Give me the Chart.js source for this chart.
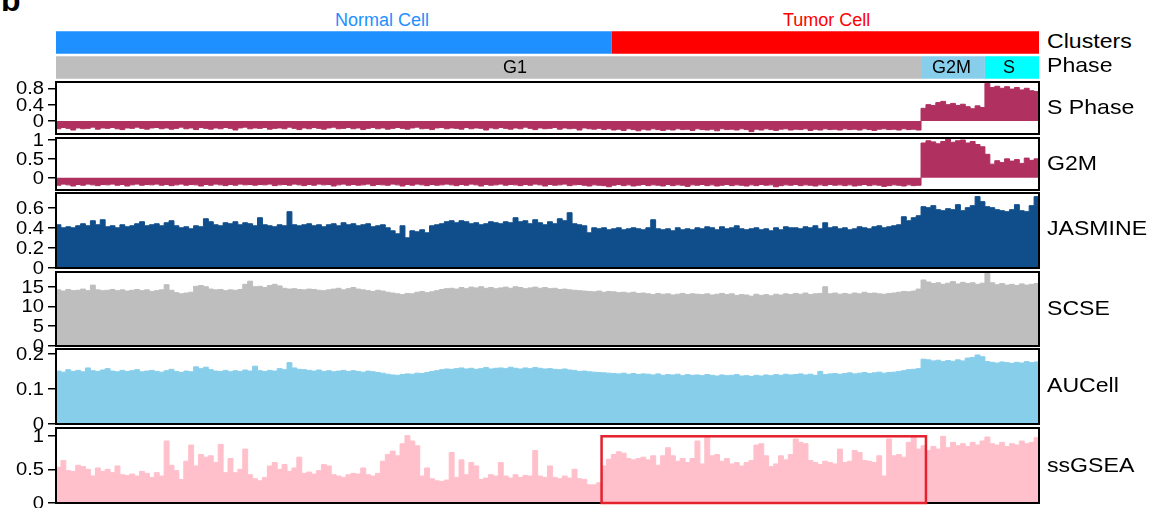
<!DOCTYPE html>
<html>
<head>
<meta charset="utf-8">
<script src="https://cdn.jsdelivr.net/npm/chart.js@4.4.1/dist/chart.umd.min.js"></script>
<style>
  html, body { margin: 0; padding: 0; background: #fff; }
  body { width: 1153px; height: 508px; overflow: hidden; position: relative; font-family: Arial, "Liberation Sans", sans-serif; }
  canvas { position: absolute; }
  .lbl { position: absolute; white-space: nowrap; line-height: 1; transform: translateY(-50%); }
  .side { font-size: 21px; color: #000; transform: translateY(-50%) scaleX(1.1); transform-origin: left center; }
</style>
</head>
<body>
<script>
// ---- data ----
const cellCount = 200;
const clusterLabels = ['Normal Cell', 'Tumor Cell'];
const clusterSizes = [113, 87];
const phaseLabels = ['G1', 'G2M', 'S'];
const phaseSizes = [176, 13, 11];

const sPhaseScore = [
  -0.19,-0.16,-0.18,-0.22,-0.17,-0.19,-0.18,-0.15,-0.20,-0.17,
  -0.18,-0.16,-0.19,-0.21,-0.17,-0.18,-0.15,-0.18,-0.20,-0.17,
  -0.16,-0.19,-0.17,-0.20,-0.18,-0.15,-0.19,-0.17,-0.21,-0.16,
  -0.18,-0.20,-0.17,-0.19,-0.16,-0.18,-0.22,-0.17,-0.15,-0.19,
  -0.17,-0.18,-0.16,-0.20,-0.18,-0.17,-0.19,-0.15,-0.18,-0.21,
  -0.17,-0.19,-0.16,-0.18,-0.20,-0.17,-0.15,-0.19,-0.18,-0.16,
  -0.19,-0.17,-0.21,-0.18,-0.16,-0.19,-0.17,-0.20,-0.18,-0.16,
  -0.18,-0.20,-0.17,-0.15,-0.19,-0.18,-0.21,-0.17,-0.16,-0.19,
  -0.17,-0.18,-0.20,-0.16,-0.19,-0.17,-0.18,-0.22,-0.17,-0.19,
  -0.16,-0.18,-0.20,-0.17,-0.19,-0.15,-0.18,-0.21,-0.17,-0.19,
  -0.18,-0.16,-0.20,-0.17,-0.19,-0.18,-0.22,-0.17,-0.19,-0.20,
  -0.18,-0.21,-0.19,-0.22,-0.20,-0.23,-0.19,-0.21,-0.24,-0.20,
  -0.22,-0.19,-0.21,-0.23,-0.20,-0.22,-0.19,-0.21,-0.20,-0.23,
  -0.19,-0.21,-0.22,-0.20,-0.24,-0.19,-0.21,-0.20,-0.22,-0.19,
  -0.21,-0.26,-0.20,-0.22,-0.19,-0.21,-0.23,-0.20,-0.19,-0.22,
  -0.20,-0.21,-0.19,-0.23,-0.20,-0.22,-0.19,-0.21,-0.20,-0.22,
  -0.19,-0.21,-0.20,-0.22,-0.19,-0.21,-0.23,-0.20,-0.19,-0.21,
  -0.20,-0.22,-0.19,-0.21,-0.20,-0.22,
  0.31,0.40,0.38,0.45,0.48,0.40,0.43,0.38,0.41,0.35,0.30,0.37,0.33,
  0.92,0.82,0.85,0.80,0.84,0.78,0.82,0.76,0.80,0.74,0.72
];

const g2mScore = [
  -0.20,-0.17,-0.19,-0.22,-0.18,-0.20,-0.17,-0.19,-0.21,-0.18,
  -0.19,-0.17,-0.20,-0.18,-0.22,-0.19,-0.17,-0.20,-0.18,-0.19,
  -0.17,-0.20,-0.18,-0.21,-0.19,-0.17,-0.20,-0.18,-0.19,-0.22,
  -0.18,-0.20,-0.17,-0.19,-0.21,-0.18,-0.20,-0.17,-0.19,-0.18,
  -0.20,-0.18,-0.19,-0.17,-0.21,-0.19,-0.18,-0.20,-0.17,-0.19,
  -0.21,-0.18,-0.20,-0.17,-0.19,-0.18,-0.22,-0.19,-0.17,-0.20,
  -0.18,-0.20,-0.19,-0.17,-0.21,-0.18,-0.19,-0.20,-0.17,-0.19,
  -0.22,-0.18,-0.20,-0.17,-0.19,-0.21,-0.18,-0.20,-0.19,-0.17,
  -0.19,-0.21,-0.18,-0.20,-0.17,-0.19,-0.22,-0.18,-0.20,-0.19,
  -0.17,-0.20,-0.18,-0.19,-0.21,-0.18,-0.20,-0.17,-0.19,-0.22,
  -0.18,-0.20,-0.19,-0.17,-0.21,-0.19,-0.18,-0.20,-0.22,-0.19,
  -0.20,-0.21,-0.24,-0.20,-0.18,-0.21,-0.19,-0.22,-0.20,-0.18,
  -0.21,-0.19,-0.20,-0.22,-0.18,-0.21,-0.19,-0.20,-0.23,-0.19,
  -0.20,-0.18,-0.21,-0.19,-0.22,-0.20,-0.18,-0.21,-0.19,-0.20,
  -0.22,-0.19,-0.21,-0.18,-0.20,-0.19,-0.24,-0.21,-0.19,-0.20,
  -0.18,-0.21,-0.19,-0.20,-0.22,-0.19,-0.21,-0.18,-0.20,-0.19,
  -0.21,-0.19,-0.22,-0.20,-0.18,-0.21,-0.19,-0.20,-0.23,-0.21,
  -0.19,-0.20,-0.22,-0.19,-0.21,-0.20,
  0.92,0.98,0.95,0.90,0.96,1.02,0.94,0.98,1.00,0.92,0.96,0.88,0.82,
  0.62,0.36,0.45,0.40,0.50,0.44,0.48,0.38,0.52,0.46,0.50
];

const jasmineScore = [
  0.43,0.40,0.41,0.40,0.42,0.44,0.42,0.47,0.43,0.48,
  0.41,0.42,0.40,0.43,0.41,0.42,0.44,0.46,0.42,0.43,
  0.44,0.42,0.45,0.47,0.42,0.40,0.41,0.39,0.42,0.41,
  0.49,0.46,0.43,0.42,0.45,0.44,0.46,0.43,0.45,0.44,
  0.42,0.50,0.43,0.42,0.41,0.43,0.42,0.56,0.43,0.42,
  0.43,0.44,0.42,0.43,0.41,0.43,0.44,0.42,0.45,0.43,
  0.44,0.42,0.43,0.44,0.41,0.42,0.43,0.40,0.37,0.34,
  0.42,0.30,0.37,0.36,0.38,0.35,0.42,0.43,0.44,0.46,
  0.47,0.45,0.47,0.46,0.44,0.45,0.43,0.44,0.46,0.45,
  0.44,0.46,0.45,0.50,0.46,0.47,0.44,0.48,0.45,0.43,
  0.46,0.44,0.49,0.47,0.55,0.44,0.43,0.42,0.35,0.40,
  0.39,0.40,0.38,0.39,0.40,0.38,0.39,0.40,0.39,0.38,
  0.40,0.48,0.39,0.38,0.39,0.37,0.40,0.38,0.39,0.38,
  0.40,0.39,0.41,0.40,0.38,0.41,0.39,0.40,0.42,0.39,
  0.38,0.39,0.40,0.38,0.39,0.37,0.40,0.38,0.41,0.40,
  0.40,0.39,0.41,0.40,0.42,0.39,0.45,0.40,0.41,0.39,
  0.40,0.38,0.39,0.41,0.40,0.39,0.41,0.42,0.40,0.41,
  0.42,0.43,0.51,0.47,0.50,0.52,
  0.61,0.60,0.62,0.58,0.57,0.59,0.58,0.63,0.57,0.60,0.62,0.71,0.66,
  0.61,0.60,0.58,0.57,0.56,0.58,0.63,0.57,0.56,0.62,0.71
];

const scseScore = [
  14.2,13.9,14.3,14.0,14.1,14.4,14.0,15.4,14.2,14.0,
  14.1,14.3,14.0,14.2,13.9,14.1,14.3,14.0,14.2,13.8,
  14.0,14.2,15.5,14.1,13.5,13.2,13.4,13.6,15.1,15.3,
  15.0,14.4,14.2,14.3,14.0,14.2,14.1,14.3,15.6,16.4,
  15.0,15.1,14.8,15.3,15.6,15.2,14.6,14.4,14.5,14.3,
  14.2,14.4,14.3,14.1,14.0,14.2,14.4,14.6,14.2,14.5,
  14.8,14.4,14.2,14.0,13.8,14.1,13.9,13.6,13.4,13.2,
  13.0,13.3,13.2,13.6,13.8,13.5,13.7,14.0,14.3,14.5,
  14.6,14.4,14.8,14.5,14.9,14.7,15.0,14.6,14.8,14.5,
  14.7,14.9,14.6,15.0,14.8,14.5,14.7,14.9,14.6,14.8,
  14.5,14.6,14.3,14.4,14.2,14.1,14.0,13.9,13.8,13.7,
  13.9,13.6,13.8,13.7,13.5,13.6,13.4,13.6,13.3,13.4,
  13.2,13.0,13.3,13.1,13.2,12.9,13.1,13.3,13.0,13.2,
  13.1,13.0,13.2,12.9,13.1,13.3,13.0,13.2,12.8,13.0,
  12.9,12.6,13.1,12.8,13.0,12.7,13.1,12.9,13.2,13.0,
  13.3,13.1,13.4,13.0,13.2,13.3,15.0,13.2,13.4,13.1,
  13.3,13.1,13.4,13.2,13.6,13.3,13.4,13.2,13.1,13.3,
  13.4,13.6,13.8,13.7,13.9,14.4,
  16.7,16.2,15.8,16.0,15.6,15.9,16.3,15.7,16.1,15.8,16.0,15.6,15.9,
  18.4,16.0,15.5,15.8,15.4,15.6,15.3,15.7,15.4,15.6,15.8
];

const aucellScore = [
  0.151,0.148,0.155,0.150,0.153,0.149,0.160,0.152,0.150,0.154,
  0.158,0.151,0.149,0.153,0.150,0.152,0.155,0.149,0.151,0.153,
  0.150,0.148,0.152,0.156,0.150,0.147,0.151,0.149,0.163,0.158,
  0.162,0.155,0.151,0.150,0.153,0.149,0.152,0.150,0.154,0.151,
  0.165,0.152,0.150,0.153,0.151,0.158,0.155,0.175,0.160,0.156,
  0.155,0.153,0.151,0.154,0.150,0.152,0.149,0.151,0.153,0.150,
  0.152,0.150,0.148,0.151,0.149,0.147,0.145,0.142,0.140,0.139,
  0.141,0.143,0.142,0.145,0.144,0.147,0.150,0.152,0.155,0.157,
  0.156,0.158,0.160,0.157,0.159,0.156,0.158,0.161,0.157,0.159,
  0.160,0.158,0.162,0.159,0.157,0.160,0.158,0.161,0.159,0.157,
  0.158,0.156,0.155,0.157,0.154,0.153,0.150,0.151,0.149,0.148,
  0.147,0.146,0.145,0.144,0.143,0.145,0.142,0.144,0.141,0.143,
  0.142,0.140,0.143,0.139,0.141,0.140,0.142,0.138,0.141,0.139,
  0.140,0.138,0.141,0.139,0.137,0.140,0.138,0.139,0.141,0.137,
  0.138,0.136,0.139,0.137,0.140,0.138,0.141,0.139,0.142,0.140,
  0.141,0.143,0.140,0.142,0.139,0.150,0.141,0.143,0.144,0.142,
  0.144,0.146,0.143,0.145,0.147,0.144,0.146,0.148,0.145,0.147,
  0.148,0.150,0.152,0.155,0.156,0.158,
  0.185,0.183,0.180,0.182,0.178,0.181,0.179,0.183,0.180,0.188,0.190,0.197,0.192,
  0.178,0.176,0.174,0.177,0.175,0.173,0.176,0.174,0.178,0.175,0.177
];

const ssgseaScore = [
  0.53,0.63,0.48,0.47,0.56,0.54,0.50,0.40,0.52,0.47,
  0.50,0.45,0.55,0.42,0.41,0.43,0.40,0.47,0.44,0.38,
  0.45,0.40,0.92,0.56,0.48,0.35,0.62,0.86,0.55,0.72,
  0.68,0.70,0.60,0.87,0.45,0.66,0.45,0.50,0.80,0.42,
  0.36,0.33,0.38,0.55,0.60,0.50,0.57,0.47,0.52,0.68,
  0.44,0.46,0.43,0.48,0.57,0.55,0.42,0.40,0.38,0.42,
  0.44,0.43,0.52,0.42,0.40,0.44,0.62,0.72,0.77,0.70,
  0.88,1.00,0.92,0.85,0.40,0.52,0.36,0.33,0.32,0.34,
  0.75,0.38,0.64,0.42,0.60,0.55,0.35,0.37,0.42,0.40,
  0.60,0.40,0.37,0.42,0.38,0.41,0.40,0.78,0.40,0.38,
  0.55,0.38,0.36,0.40,0.37,0.50,0.36,0.35,0.27,0.27,
  0.30,0.55,0.65,0.72,0.76,0.74,0.66,0.64,0.66,0.68,
  0.64,0.70,0.56,0.70,0.82,0.70,0.62,0.66,0.60,0.66,
  0.92,0.58,1.00,0.70,0.72,0.62,0.66,0.58,0.60,0.55,
  0.60,0.63,0.86,0.88,0.70,0.54,0.58,0.70,0.64,0.72,
  0.95,0.90,0.88,0.63,0.60,0.57,0.62,0.60,0.58,0.80,
  0.60,0.62,0.78,0.75,0.63,0.62,0.60,0.70,0.40,0.95,
  0.70,0.72,0.68,0.90,0.98,0.80,0.85,0.78,0.84,0.80,
  0.99,0.82,0.90,0.85,0.88,0.84,0.90,0.86,0.92,0.98,
  0.88,0.86,0.90,0.84,0.88,0.86,0.92,0.88,0.90,0.97
];

const sPhaseTicks = [0, 0.4, 0.8];
const g2mTicks = [0, 0.5, 1];
const jasmineTicks = [0, 0.2, 0.4, 0.6];
const scseTicks = [0, 5, 10, 15];
const aucellTicks = [0, 0.1, 0.2];
const ssgseaTicks = [0, 0.5, 1];

// boxed tumor G1 block in the ssGSEA track (cell index range, score top)
const highlightCells = [111, 177];
const highlightTop = 0.99;

// ---- helpers ----
function addLabel(text, left, y, cls, style) {
  const d = document.createElement('div');
  d.className = 'lbl ' + (cls || '');
  d.textContent = text;
  d.style.left = left + 'px';
  d.style.top = y + 'px';
  Object.assign(d.style, style || {});
  document.body.appendChild(d);
}

// black box around each track
const framePlugin = {
  id: 'frame',
  afterDatasetsDraw(chart) {
    const { ctx, chartArea: a } = chart;
    ctx.save();
    ctx.strokeStyle = '#000';
    ctx.lineWidth = 2;
    ctx.strokeRect(a.left, a.top, a.right - a.left, a.bottom - a.top);
    ctx.restore();
  }
};

// y tick labels, a bit wide like the original figure
const tickLabelPlugin = {
  id: 'tickLabels',
  afterDraw(chart) {
    const ax = chart.scales.y, ctx = chart.ctx;
    ctx.save();
    ctx.fillStyle = '#000';
    ctx.font = '18px Arial, "Liberation Sans", sans-serif';
    ctx.textAlign = 'right';
    ctx.textBaseline = 'middle';
    ax.ticks.forEach(t => {
      const y = ax.getPixelForValue(t.value);
      ctx.save();
      ctx.translate(44, y + 1);
      ctx.scale(1.12, 1);
      ctx.fillText(String(t.value), 0, 0);
      ctx.restore();
    });
    ctx.restore();
  }
};

const highlightPlugin = {
  id: 'highlight',
  afterDatasetsDraw(chart) {
    const { ctx, scales: { x, y } } = chart;
    const x0 = x.getPixelForValue(highlightCells[0]);
    const x1 = x.getPixelForValue(highlightCells[1]);
    const y0 = y.getPixelForValue(highlightTop);
    const y1 = y.getPixelForValue(0);
    ctx.save();
    ctx.strokeStyle = '#E5212D';
    ctx.lineWidth = 2.5;
    ctx.strokeRect(x0, y0, x1 - x0, y1 - y0);
    ctx.restore();
  }
};

function makeTrack(values, ticks, st, extra) {
  const pad = 12;
  const cv = document.createElement('canvas');
  cv.width = 1040;
  cv.height = st.frame[1] - st.frame[0] + 2 * pad;
  cv.style.left = '0px';
  cv.style.top = (st.frame[0] - pad) + 'px';
  document.body.appendChild(cv);

  const pts = values.map((v, i) => ({ x: i, y: v }));
  pts.push({ x: values.length, y: values[values.length - 1] });

  return new Chart(cv, {
    type: 'line',
    data: {
      datasets: [{
        data: pts,
        stepped: true,
        fill: 'origin',
        backgroundColor: st.color,
        borderColor: st.color,
        borderWidth: 1,
        pointRadius: 0
      }]
    },
    options: {
      responsive: false,
      animation: false,
      layout: { padding: { left: 0, right: 1, top: pad, bottom: pad } },
      plugins: { legend: { display: false }, tooltip: { enabled: false } },
      scales: {
        x: { type: 'linear', min: 0, max: cellCount, display: false },
        y: {
          min: st.range[0],
          max: st.range[1],
          afterBuildTicks: ax => { ax.ticks = ticks.map(v => ({ value: v })); },
          afterFit: ax => { ax.width = 56; },
          grid: { drawOnChartArea: false, tickLength: 8, color: '#000', lineWidth: 1.5 },
          border: { display: false },
          ticks: { display: false }
        }
      }
    },
    plugins: [framePlugin, tickLabelPlugin].concat(extra || [])
  });
}

// ---- annotation bars (Clusters / Phase) ----
function segments(sizes, colors, row) {
  let start = 0;
  return sizes.map((n, k) => {
    const data = [null, null];
    data[row] = [start, start + n];
    start += n;
    return {
      data: data,
      backgroundColor: colors[k],
      borderWidth: 0,
      borderSkipped: false,
      grouped: false,
      barPercentage: 0.9,
      categoryPercentage: 1
    };
  });
}

const annCanvas = document.createElement('canvas');
annCanvas.width = 983;
annCanvas.height = 50;
annCanvas.style.left = '56px';
annCanvas.style.top = '30px';
document.body.appendChild(annCanvas);

new Chart(annCanvas, {
  type: 'bar',
  data: {
    labels: ['Clusters', 'Phase'],
    datasets: segments(clusterSizes, ['#1E90FF', '#FF0000'], 0)
      .concat(segments(phaseSizes, ['#BEBEBE', '#87CEEB', '#00FFFF'], 1))
  },
  options: {
    indexAxis: 'y',
    responsive: false,
    animation: false,
    layout: { padding: 0 },
    plugins: { legend: { display: false }, tooltip: { enabled: false } },
    scales: {
      x: { type: 'linear', min: 0, max: cellCount, display: false },
      y: { display: false }
    }
  }
});

// ---- score tracks ----
makeTrack(sPhaseScore, sPhaseTicks, { frame: [82, 134], range: [-0.318, 0.954], color: '#B03060' });
makeTrack(g2mScore, g2mTicks, { frame: [138, 190], range: [-0.326, 1.053], color: '#B03060' });
makeTrack(jasmineScore, jasmineTicks, { frame: [193, 268], range: [0, 0.746], color: '#104E8B' });
makeTrack(scseScore, scseTicks, { frame: [272, 346], range: [0, 18.72], color: '#BEBEBE' });
makeTrack(aucellScore, aucellTicks, { frame: [349, 424], range: [0, 0.214], color: '#87CEEB' });
makeTrack(ssgseaScore, ssgseaTicks, { frame: [428, 503], range: [0, 1.113], color: '#FFC0CB' }, [highlightPlugin]);

// ---- text ----
addLabel('b', 1, -16, '', { fontSize: '32px', fontWeight: 'bold', transform: 'none' });
addLabel(clusterLabels[0], 335, 20, '', { fontSize: '18px', color: '#1E90FF' });
addLabel(clusterLabels[1], 783, 20, '', { fontSize: '18px', color: '#FF0000' });
addLabel(phaseLabels[0], 503, 67, '', { fontSize: '18px' });
addLabel(phaseLabels[1], 932, 67, '', { fontSize: '18px' });
addLabel(phaseLabels[2], 1003, 67, '', { fontSize: '18px' });

const sideNames = ['Clusters', 'Phase', 'S Phase', 'G2M', 'JASMINE', 'SCSE', 'AUCell', 'ssGSEA'];
const sideY = [39.5, 64, 106, 161.5, 226.5, 306.5, 384, 463.5];
sideNames.forEach((t, k) => addLabel(t, 1047, sideY[k], 'side'));
</script>
</body>
</html>
